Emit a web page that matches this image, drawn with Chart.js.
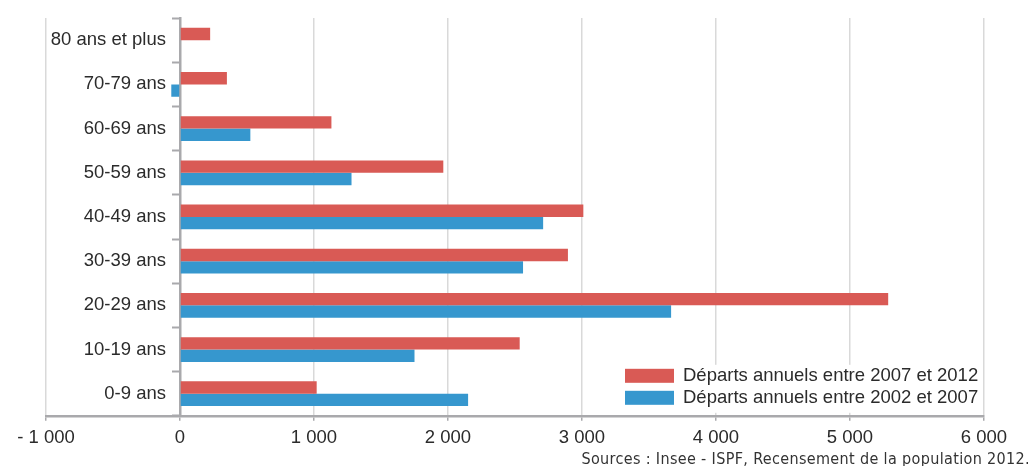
<!DOCTYPE html>
<html>
<head>
<meta charset="utf-8">
<script src="https://cdn.jsdelivr.net/npm/chart.js@4/dist/chart.umd.min.js"></script>
<style>
  html, body { margin: 0; padding: 0; background: #fff; }
  #wrap { position: relative; width: 1032px; height: 466px; overflow: hidden; }
  #source {
    position: absolute; right: 2px; top: 449px;
    font-family: "DejaVu Sans", sans-serif; font-stretch: condensed;
    font-size: 16px; letter-spacing: 0.35px; color: #333; white-space: nowrap;
  }
</style>
</head>
<body>
<div id="wrap">
  <canvas id="chart" width="1032" height="466"></canvas>
  <div id="source">Sources : Insee - ISPF, Recensement de la population 2012.</div>
</div>
<script>
const ageGroups = ['80 ans et plus', '70-79 ans', '60-69 ans', '50-59 ans', '40-49 ans', '30-39 ans', '20-29 ans', '10-19 ans', '0-9 ans'];
const departs2007_2012 = [225, 350, 1130, 1965, 3010, 2895, 5285, 2535, 1020];
const departs2002_2007 = [0, -65, 525, 1280, 2710, 2560, 3665, 1750, 2150];
const seriesLabels = ['Départs annuels entre 2007 et 2012', 'Départs annuels entre 2002 et 2007'];
const xTicks = [-1000, 0, 1000, 2000, 3000, 4000, 5000, 6000];

const RED = '#D95A55';
const BLUE = '#3697CE';
const AXIS = '#a9a9ac';
const FONT = '"Liberation Sans", Arial, sans-serif';

function formatThousands(v) {
  const s = Math.abs(v).toString().replace(/\B(?=(\d{3})+(?!\d))/g, ' ');
  return v < 0 ? '- ' + s : s;
}

// y labels of an axis placed at x=0 sit right on the line, push them left of the tick marks
const yLabelShift = {
  id: 'yLabelShift',
  beforeDraw(chart) {
    const scale = chart.scales.y;
    const items = scale.getLabelItems(chart.chartArea);
    if (items._shifted) return;
    items.forEach(it => { it.options.translation[0] -= 14; });
    items._shifted = true;
  }
};

// legend drawn inside the plot, bottom right, on a white box
const insideLegend = {
  id: 'insideLegend',
  afterDatasetsDraw(chart) {
    const ctx = chart.ctx;
    const area = chart.chartArea;
    const right = area.right - 1;
    const bottom = area.bottom - 3;
    ctx.save();
    ctx.fillStyle = '#fff';
    ctx.fillRect(618, bottom - 48, right - 618, 48);
    ctx.font = '18.5px ' + FONT;
    ctx.textBaseline = 'middle';
    chart.data.datasets.forEach((ds, i) => {
      const y = bottom - 44 + i * 22;
      ctx.fillStyle = ds.backgroundColor;
      ctx.fillRect(625, y, 49, 14);
      ctx.fillStyle = '#2b2b2b';
      ctx.fillText(ds.label, 683, y + 7.5);
    });
    ctx.restore();
  }
};

new Chart(document.getElementById('chart'), {
  type: 'bar',
  data: {
    labels: ageGroups,
    datasets: [{
      label: seriesLabels[0],
      data: departs2007_2012,
      backgroundColor: RED,
      categoryPercentage: 0.56,
      barPercentage: 1
    }, {
      label: seriesLabels[1],
      data: departs2002_2007,
      backgroundColor: BLUE,
      categoryPercentage: 0.56,
      barPercentage: 1
    }]
  },
  options: {
    indexAxis: 'y',
    responsive: false,
    animation: false,
    layout: { padding: { left: 46, right: 48, top: 10, bottom: 11 } },
    plugins: {
      legend: { display: false },
      tooltip: { enabled: false }
    },
    scales: {
      x: {
        min: -1000,
        max: 6000,
        afterBuildTicks(scale) {
          scale.ticks = xTicks.map(v => ({ value: v }));
        },
        grid: {
          color: '#d9d9d9',
          lineWidth: 1.5,
          tickColor: AXIS,
          tickLength: 5,
          tickWidth: 1.5
        },
        border: { color: AXIS, width: 2.5 },
        ticks: {
          color: '#2b2b2b',
          padding: 6,
          font: { family: FONT, size: 18.5 },
          callback: v => formatThousands(v)
        }
      },
      y: {
        position: { x: 0 },
        grid: {
          drawOnChartArea: false,
          tickColor: AXIS,
          tickLength: 7,
          tickWidth: 2
        },
        border: { color: AXIS, width: 2.5 },
        ticks: {
          color: '#2b2b2b',
          padding: 7,
          font: { family: FONT, size: 18.5 }
        }
      }
    }
  },
  plugins: [yLabelShift, insideLegend]
});
</script>
</body>
</html>
